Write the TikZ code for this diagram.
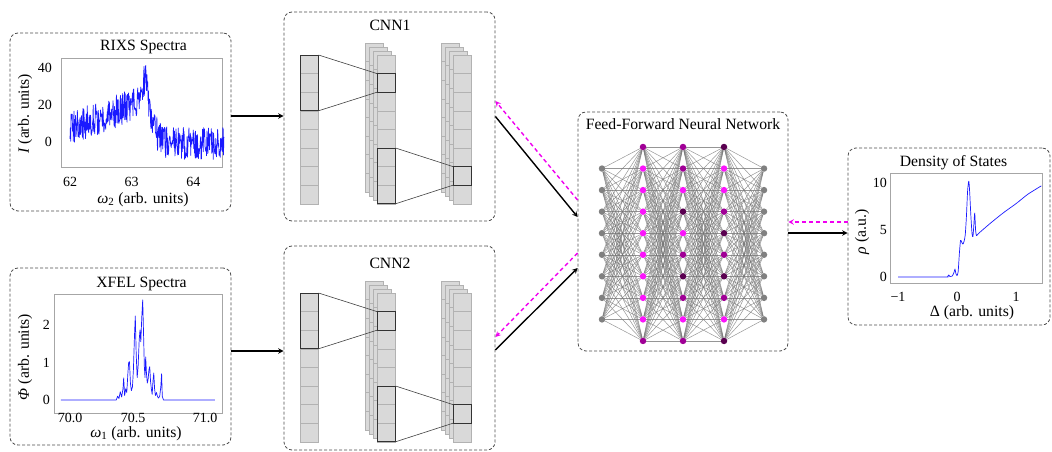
\documentclass[tikz,border=0pt]{standalone}
\usepackage{fontspec}
\setmainfont{Liberation Serif}
\usetikzlibrary{calc,arrows,backgrounds}
\definecolor{hidA}{RGB}{250,20,250}
\definecolor{hidB}{RGB}{160,0,150}
\definecolor{hidC}{RGB}{90,0,80}
\definecolor{specblue}{RGB}{25,25,255}
\definecolor{fbmag}{RGB}{240,0,240}
\tikzset{panel/.style={draw=black!70,dash pattern=on 3pt off 2pt,rounded corners=8pt,line width=0.8pt,inner sep=0pt},
axframe/.style={draw=black!35,line width=0.8pt},
speccurve/.style={specblue,line width=0.7pt,line join=round},
ticklab/.style={font=\fontsize{14}{16}\selectfont,inner sep=0pt},
flow/.style={->,black,line width=1.4pt},
feedback/.style={->,fbmag,line width=1.4pt,dash pattern=on 4pt off 3pt}}

\begin{document}
\begin{tikzpicture}[x=1pt,y=-1pt,>=stealth,font=\fontsize{15.7}{18}\selectfont]

\tikzset{fmcell/.style={fill=black!15,draw=black!30,line width=0.5pt},
kernelbox/.style={draw=black!80,line width=0.9pt},
kernellink/.style={draw=black!75,line width=0.6pt},
neuron/.style={circle,inner sep=0pt,minimum size=6.5pt,draw=none},
wire/.style={draw=black!55,line width=0.5pt,draw opacity=0.75}}

\useasboundingbox (0,0) rectangle (1052,452);

% RIXS panel
\node[panel,minimum width=221pt,minimum height=178pt] (rixs) at (120.5,122) {};
\node[anchor=base] (rixs-title) at (143.5,51) {RIXS Spectra};
\draw[axframe] (61,58) rectangle (222,167);
\foreach \v/\px [count=\n] in {62/70,63/131.7,64/193.4}
  \node[ticklab,anchor=base] (rixs-xt\n) at (\px,186) {\v};
\foreach \v/\py [count=\n] in {40/68,20/105,0/142}
  \node[ticklab,anchor=east] (rixs-yt\n) at (52,\py) {\v};
\node[anchor=base] (rixs-xlab) at (143,203.5) {\textit{ω}\textsubscript{2} (arb. units)};
\node[rotate=90] (rixs-ylab) at (25,114) {\textit{I} (arb. units)};
\begin{scope}[shift={(70,142)},x=61.7pt,y=1.85pt]
  \pgfmathsetseed{42}
  \draw[speccurve] plot[domain=62:64.5,samples=420] ({\x-62},{(8+13*(\x-62))/(1+exp(max(min((\x-63.35)/0.05,9),-9)))+13*exp(-min(((\x-63.22)/0.045)^2,9))-1+9*rand});
\end{scope}

% XFEL panel
\node[panel,minimum width=221pt,minimum height=177pt] (xfel) at (120.5,356.5) {};
\node[anchor=base] (xfel-title) at (141.5,287.7) {XFEL Spectra};
\draw[axframe] (54,294) rectangle (222,413);
\foreach \v/\px [count=\n] in {70.0/70,70.5/133,71.0/205}
  \node[ticklab,anchor=base] (xfel-xt\n) at (\px,422.5) {\v};
\foreach \v/\py [count=\n] in {2/325,1/362.5,0/400}
  \node[ticklab,anchor=east] (xfel-yt\n) at (50,\py) {\v};
\node[anchor=base] (xfel-xlab) at (136,437.5) {\textit{ω}\textsubscript{1} (arb. units)};
\node[rotate=90] (xfel-ylab) at (25,357) {\textit{Φ} (arb. units)};
\begin{scope}[shift={(69,400)},x=135pt,y=37.5pt]
  \draw[speccurve] plot coordinates {(-0.06,0) (0.35,0) (0.36,0.1) (0.37,0.04) (0.38,0.22) (0.39,0.08) (0.40,0.3) (0.405,0.59) (0.412,0.12) (0.42,0.3) (0.428,0.2) (0.436,0.7) (0.442,1.0) (0.448,1.02) (0.455,0.45) (0.462,0.25) (0.47,0.35) (0.477,0.8) (0.485,1.7) (0.491,2.24) (0.498,1.2) (0.505,0.6) (0.512,0.9) (0.52,1.6) (0.526,1.87) (0.532,1.55) (0.539,2.2) (0.546,2.67) (0.552,1.8) (0.558,0.9) (0.563,0.6) (0.568,1.15) (0.574,0.7) (0.58,0.45) (0.586,0.55) (0.592,0.8) (0.598,0.89) (0.604,0.5) (0.61,0.3) (0.616,0.15) (0.622,0.5) (0.628,0.72) (0.634,0.3) (0.64,0.12) (0.648,0.2) (0.655,0.1) (0.662,0.05) (0.672,0.1) (0.68,0.35) (0.686,0.7) (0.691,0.1) (0.70,0) (1.08,0)};
\end{scope}

% CNN blocks
\node[panel,minimum width=211pt,minimum height=209pt] (cnn1) at (389.5,116.5) {};
\node[panel,minimum width=211pt,minimum height=204pt] (cnn2) at (389.5,348) {};
\foreach \k/\dy in {1/0,2/238}{
\begin{scope}[shift={(0,\dy)}]
  \node[anchor=base] (cnn\k-title) at (390,30.7) {CNN\k};
  % input column
  \foreach \i in {0,...,7} \draw[fmcell] (300,{55+18.6*\i}) rectangle ++(18.5,18.6);
  % feature map stacks
  \foreach \sx in {377,453} \foreach \o in {12,8,4,0} \foreach \i in {0,...,7}
    \draw[fmcell] ({\sx-\o},{55-\o+18.6*\i}) rectangle ++(18.5,18.6);
  % kernels
  \draw[kernelbox] (300,55) rectangle (318.5,110.8);
  \draw[kernelbox] (377,73.6) rectangle (395.5,92.2);
  \draw[kernelbox] (377,148) rectangle (395.5,203.8);
  \draw[kernelbox] (453,166.6) rectangle (471.5,185.2);
  \draw[kernellink] (318.5,55) -- (377,73.6) (318.5,110.8) -- (377,92.2);
  \draw[kernellink] (395.5,148) -- (453,166.6) (395.5,203.8) -- (453,185.2);
\end{scope}}

% Feed-forward network
\node[panel,minimum width=210pt,minimum height=239pt] (ffnn) at (683,231.5) {};
\node[anchor=base] (ffnn-title) at (683,129.3) {Feed-Forward Neural Network};
\foreach \i in {2,...,9}{
  \node[neuron,fill=black!50] (in-\i) at (602,{147+21.55*(\i-1)}) {};
  \node[neuron,fill=black!50] (out-\i) at (764,{147+21.55*(\i-1)}) {};}
\foreach \i/\c in {1/hidB,2/hidA,3/hidA,4/hidA,5/hidA,6/hidA,7/hidA,8/hidA,9/hidA,10/hidB}
  \node[neuron,fill=\c] (ha-\i) at (643,{147+21.55*(\i-1)}) {};
\foreach \i/\c in {1/hidB,2/hidB,3/hidA,4/hidC,5/hidA,6/hidB,7/hidC,8/hidB,9/hidA,10/hidB}
  \node[neuron,fill=\c] (hb-\i) at (683,{147+21.55*(\i-1)}) {};
\foreach \i/\c in {1/hidC,2/hidA,3/hidA,4/hidB,5/hidC,6/hidB,7/hidC,8/hidB,9/hidA,10/hidC}
  \node[neuron,fill=\c] (hc-\i) at (724,{147+21.55*(\i-1)}) {};
\begin{scope}[on background layer]
\foreach \i in {2,...,9} \foreach \j in {1,...,10}{
  \draw[wire] (in-\i) -- (ha-\j);
  \draw[wire] (hc-\j) -- (out-\i);}
\foreach \i in {1,...,10} \foreach \j in {1,...,10}{
  \draw[wire] (ha-\i) -- (hb-\j);
  \draw[wire] (hb-\i) -- (hc-\j);}
\end{scope}

% Density of states panel
\node[panel,minimum width=202pt,minimum height=177pt] (dos) at (949,236.5) {};
\node[anchor=base] (dos-title) at (953.5,166.7) {Density of States};
\draw[axframe] (890,173) rectangle (1042,283);
\foreach \v/\px [count=\n] in {−1/898,0/957,1/1016}
  \node[ticklab,anchor=base] (dos-xt\n) at (\px,301.7) {\v};
\foreach \v/\py [count=\n] in {10/183,5/230,0/277}
  \node[ticklab,anchor=east] (dos-yt\n) at (887,\py) {\v};
\node[anchor=base] (dos-xlab) at (972,316.7) {Δ (arb. units)};
\node[rotate=90] (dos-ylab) at (862,232) {\textit{ρ} (a.u.)};
\begin{scope}[shift={(957,277)},x=59pt,y=9.4pt]
  \draw[speccurve] plot[smooth,tension=0.4] coordinates {(-1,0) (-0.2,0) (-0.16,0.05) (-0.14,0.22) (-0.12,0.05) (-0.08,0.1) (-0.05,0.5) (-0.035,0.85) (-0.02,0.4) (0,0.15) (0.02,0.6) (0.04,2.5) (0.06,3.9) (0.08,3.7) (0.1,3.5) (0.12,3.8) (0.14,4.5) (0.16,6.5) (0.18,9.2) (0.2,10.2) (0.215,9.0) (0.235,6.5) (0.255,4.6) (0.27,4.3) (0.285,5.5) (0.3,6.8) (0.315,5.0) (0.33,4.4) (0.36,4.6) (0.45,5.1) (0.6,5.9) (0.8,6.9) (1.0,7.8) (1.2,8.8) (1.43,9.7)};
\end{scope}

% Connections between panels
\coordinate (in1) at ($(cnn1.west)+(0,-0.5)$);
\coordinate (in2) at ($(cnn2.west)+(0,3)$);
\draw[flow] (rixs.east |- in1) -- (in1);
\draw[flow] (xfel.east |- in2) -- (in2);
\draw[flow] (cnn1.east) -- ($(ffnn.west)+(0,-14.5)$);
\draw[feedback] ($(ffnn.west)+(0,-31.5)$) -- ($(cnn1.east)+(0,-15.5)$);
\draw[flow] ($(cnn2.east)+(0,2)$) -- ($(ffnn.west)+(0,36.5)$);
\draw[feedback] ($(ffnn.west)+(0,21.5)$) -- ($(cnn2.east)+(0,-11)$);
\draw[flow] ($(ffnn.east)+(0,1.5)$) -- ($(dos.west)+(0,-3.5)$);
\draw[feedback] ($(dos.west)+(0,-14.5)$) -- ($(ffnn.east)+(0,-9.5)$);

\end{tikzpicture}
\end{document}
